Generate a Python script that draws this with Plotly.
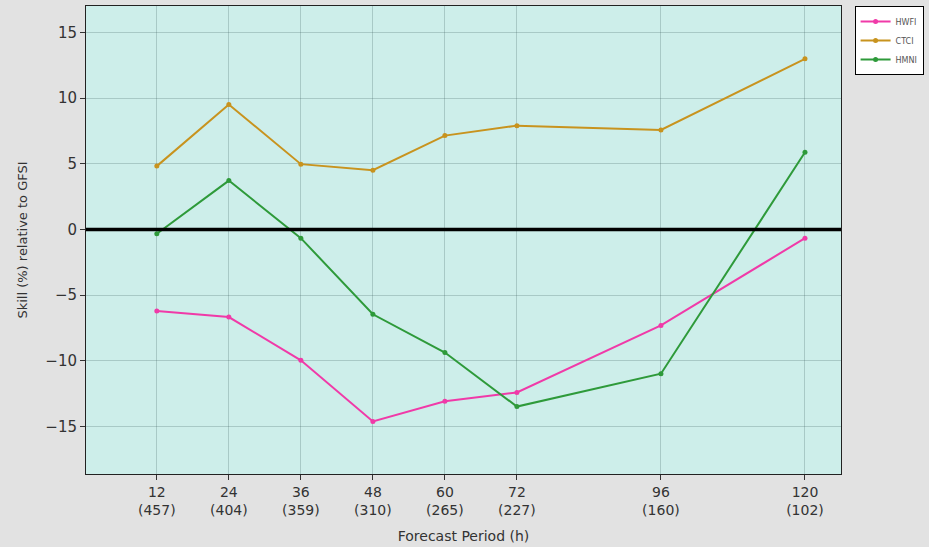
import plotly.graph_objects as go

hours = [12, 24, 36, 48, 60, 72, 96, 120]
counts = [457, 404, 359, 310, 265, 227, 160, 102]
hwfi = [-6.2, -6.66, -9.95, -14.6, -13.06, -12.4, -7.3, -0.66]
ctci = [4.82, 9.51, 4.97, 4.51, 7.14, 7.9, 7.57, 12.98]
hmni = [-0.33, 3.72, -0.66, -6.45, -9.36, -13.47, -10.97, 5.87]
yticks = [-15, -10, -5, 0, 5, 10, 15]

tick_text = [f"{h}<br>({c})" for h, c in zip(hours, counts)]

fig = go.Figure()
series = [("HWFI", hwfi, "#f03aa8"), ("CTCI", ctci, "#c8931e"), ("HMNI", hmni, "#2e9a3a")]
for name, vals, col in series:
    fig.add_trace(go.Scatter(x=hours, y=vals, name=name, mode="lines+markers",
                             line=dict(color=col, width=2), marker=dict(color=col, size=5)))

fig.add_shape(type="line", xref="paper", x0=0, x1=1, yref="y", y0=0, y1=0,
              line=dict(color="black", width=3.5), layer="above")

fig.update_layout(
    width=929, height=547,
    margin=dict(l=86, r=86, t=5, b=72),
    paper_bgcolor="#e2e2e2",
    plot_bgcolor="#cdeeea",
    font=dict(family="DejaVu Sans", color="#333333"),
    showlegend=True,
    legend=dict(x=1.018, y=1.0, xanchor="left", yanchor="top",
                bgcolor="white", bordercolor="black", borderwidth=1,
                font=dict(size=8, color="#555555"), itemwidth=30,
                tracegroupgap=0),
)
fig.update_xaxes(range=[0.2, 126], tickvals=hours, ticktext=tick_text,
                 tickfont=dict(size=14), ticks="outside", ticklen=5, tickcolor="#333",
                 showgrid=True, gridcolor="rgba(60,90,90,0.25)", gridwidth=1,
                 showline=True, linecolor="#222", linewidth=1, mirror=True,
                 zeroline=False,
                 title=dict(text="Forecast Period (h)", font=dict(size=14), standoff=14))
fig.update_yaxes(range=[-18.6, 17], tickvals=yticks,
                 tickfont=dict(size=15), ticks="outside", ticklen=5, tickcolor="#333",
                 showgrid=True, gridcolor="rgba(60,90,90,0.25)", gridwidth=1,
                 showline=True, linecolor="#222", linewidth=1, mirror=True,
                 zeroline=False,
                 title=dict(text="Skill (%) relative to GFSI", font=dict(size=13), standoff=14))

fig.write_html("out.html", config={"displayModeBar": False},
               post_script="document.body.style.margin='0';document.body.style.padding='0';document.body.style.overflow='hidden';")
